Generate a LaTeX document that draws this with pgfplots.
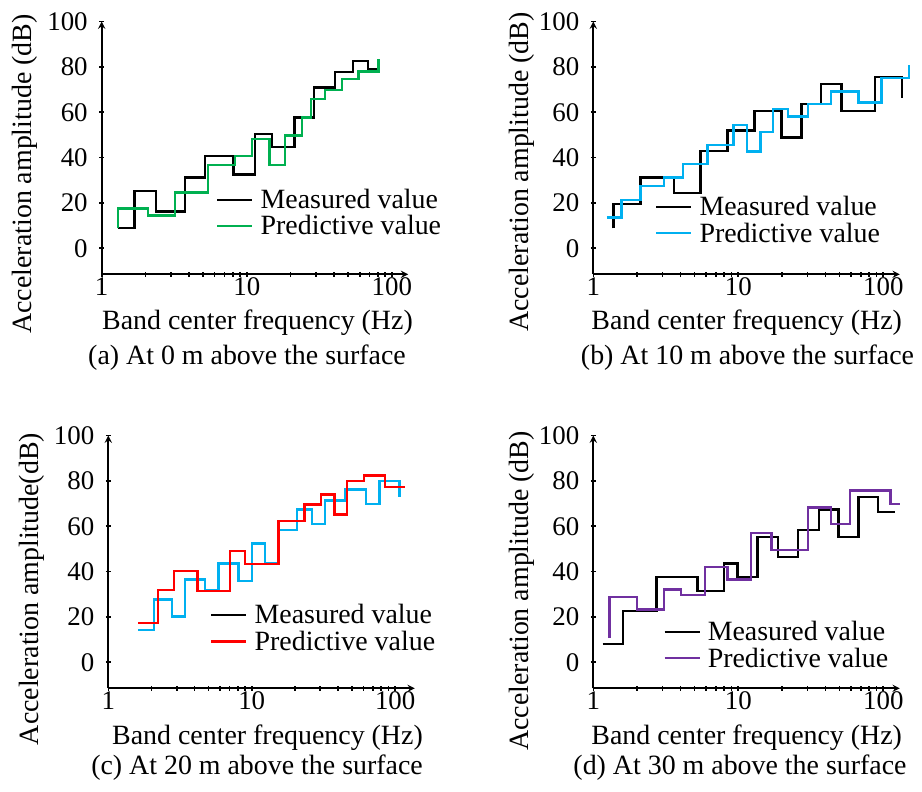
\documentclass[border=0pt]{standalone}
\usepackage{fontspec}
\setmainfont{Liberation Serif}
\usepackage{pgfplots}
\pgfplotsset{compat=1.18}
\pgfkeys{/pgf/number format/assume math mode=true}
\definecolor{cgreen}{HTML}{00B050}
\definecolor{ccyan}{HTML}{00B0F0}
\definecolor{cred}{HTML}{FF0000}
\definecolor{cpurple}{HTML}{7030A0}
\pgfplotsset{
 every axis/.append style={
  scale only axis, width=306.5bp, height=252.8bp,
  axis line style={-, line width=2.2bp},
  tick align=inside,
  major tick length=5bp, minor tick length=5bp,
  tick label style={font=\fontsize{27}{27}\selectfont},
  yticklabel style={xshift=-8bp},
  xticklabel style={yshift=3bp},
  legend style={draw=none, fill=none, inner sep=0pt, font=\fontsize{28}{28}\selectfont, row sep=1.5bp, anchor=north west,
    /tikz/every odd column/.append style={column sep=5bp}},
  legend cell align=left,
 },
 every tick/.style={line width=1.6bp, black},
 legend image code/.code={\draw[line width=2.4bp,#1] (0bp,0bp) -- (35bp,0bp);},
}
\newcommand{\bigfont}{\fontsize{28}{28}\selectfont}
\begin{document}
\begin{tikzpicture}
\path[use as bounding box] (0bp,0bp) rectangle (922bp,-792bp);
% ---------------- (a)
\begin{axis}[xmode=log, xmin=1, xmax=129.5, ymin=-11.5, ymax=100,
  axis x line=bottom, axis y line=left, clip=false,
  xtick={1,10,100}, xticklabels={1,10,100},
  minor xtick={2,3,4,5,6,7,8,9,20,30,40,50,60,70,80,90},
  ytick={0,20,40,60,80,100},
  at={(101.7bp,-274.3bp)}, anchor=south west,
  legend style={at={(axis description cs:0.373,0.345)}}]
\addlegendimage{black}\addlegendentry{Measured value}
\addlegendimage{cgreen}\addlegendentry{Predictive value}
\addplot[const plot, line width=2.4bp, forget plot, black] coordinates {(1.30,8.8)(1.68,25.3)(2.37,16.2)(3.76,31.2)(5.16,40.7)(8.09,32.6)(11.4,50.4)(14.9,44.6)(21.3,57.6)(29.1,70.9)(40.6,77.6)(53.8,82.6)(68.3,79.1)(80.9,79.1)};
\addplot[const plot, line width=2.4bp, forget plot, cgreen] coordinates {(1.30,8.8)(1.30,17.6)(2.08,14.4)(3.20,24.6)(5.38,36.8)(8.31,40.7)(10.9,48.2)(14.3,36.8)(18.4,49.7)(23.9,57.6)(27.8,65.7)(34.7,69.9)(45.2,74.7)(58.9,77.9)(80.9,83.4)};
\end{axis}
% ---------------- (b)
\begin{axis}[xmode=log, xmin=1, xmax=130, ymin=-11.5, ymax=100,
  axis x line=bottom, axis y line=left, clip=false,
  xtick={1,10,100}, xticklabels={1,10,100},
  minor xtick={2,3,4,5,6,7,8,9,20,30,40,50,60,70,80,90},
  ytick={0,20,40,60,80,100},
  at={(593.3bp,-274.3bp)}, anchor=south west,
  legend style={at={(axis description cs:0.201,0.317)}}]
\addlegendimage{black}\addlegendentry{Measured value}
\addlegendimage{ccyan}\addlegendentry{Predictive value}
\addplot[const plot, line width=2.4bp, forget plot, black] coordinates {(1.38,8.8)(1.38,19.4)(2.11,31.2)(3.59,24.3)(5.50,42.9)(8.43,51.9)(12.9,60.6)(19.8,48.8)(27.2,63.5)(37.1,72.5)(51.6,60.6)(87.9,75.4)(134.8,66.2)};
\addplot[const plot, line width=2.4bp, forget plot, ccyan] coordinates {(1.24,13.5)(1.56,21.3)(2.11,27.5)(3.06,31.2)(4.17,37.2)(6.12,45.6)(9.28,54.4)(11.5,42.6)(14.2,51.2)(17.4,61.3)(22.0,58.1)(30.3,63.5)(43.5,69.1)(67.4,64.3)(96.9,75.0)(150,80.9)};
\end{axis}
% ---------------- (c)
\begin{axis}[xmode=log, xmin=1, xmax=137, ymin=-11.5, ymax=100,
  axis x line=bottom, axis y line=left, clip=false,
  xtick={1,10,100}, xticklabels={1,10,100},
  minor xtick={2,3,4,5,6,7,8,9,20,30,40,50,60,70,80,90},
  ytick={0,20,40,60,80,100},
  at={(108.3bp,-688.3bp)}, anchor=south west,
  legend style={at={(axis description cs:0.332,0.34)}}]
\addlegendimage{black}\addlegendentry{Measured value}
\addlegendimage{cred}\addlegendentry{Predictive value}
\addplot[const plot, line width=2.4bp, forget plot, ccyan] coordinates {(1.62,14.2)(2.09,27.7)(2.77,20.1)(3.43,36.5)(4.73,31.8)(5.85,43.5)(8.07,35.9)(10.0,52.3)(12.4,43.5)(15.4,58.2)(20.6,67.3)(26.2,60.9)(32.5,71.4)(44.8,76.1)(62.8,69.9)(77.8,79.9)(107.2,72.9)};
\addplot[const plot, line width=2.4bp, forget plot, cred] coordinates {(1.62,17.2)(2.23,31.8)(2.87,40.3)(4.18,31.5)(7.06,49.0)(8.98,43.3)(15.4,62.3)(23.3,69.6)(30.5,74.0)(37.7,65.2)(46.0,79.9)(60.8,82.4)(85.1,77.3)(117.4,77.3)};
\end{axis}
% ---------------- (d)
\begin{axis}[xmode=log, xmin=1, xmax=130, ymin=-11.5, ymax=100,
  axis x line=bottom, axis y line=left, clip=false,
  xtick={1,10,100}, xticklabels={1,10,100},
  minor xtick={2,3,4,5,6,7,8,9,20,30,40,50,60,70,80,90},
  ytick={0,20,40,60,80,100},
  at={(593.3bp,-688.3bp)}, anchor=south west,
  legend style={at={(axis description cs:0.228,0.273)}}]
\addlegendimage{black}\addlegendentry{Measured value}
\addlegendimage{cpurple}\addlegendentry{Predictive value}
\addplot[const plot, line width=2.4bp, forget plot, black] coordinates {(1.16,8.1)(1.60,22.7)(2.72,37.7)(5.22,31.5)(8.0,43.5)(9.89,37.7)(13.6,55.3)(18.8,46.5)(25.8,58.2)(35.9,67.3)(49.0,55.3)(67.4,72.9)(91.8,66.3)(121,66.3)};
\addplot[const plot, line width=2.4bp, forget plot, cpurple] coordinates {(1.29,10.6)(1.29,28.9)(2.0,23.3)(3.06,32.1)(4.04,29.6)(5.87,42.1)(8.43,36.5)(12.2,57.0)(16.9,49.4)(30.3,68.2)(43.5,60.9)(59.0,75.8)(111.9,69.9)(131,69.9)};
\end{axis}
% ---------------- labels
\node[rotate=90, font=\bigfont] at (25bp,-174bp) {Acceleration amplitude (dB)};
\node[font=\bigfont] at (257.5bp,-323bp) {Band center frequency (Hz)};
\node[font=\bigfont] at (247bp,-358bp) {(a) At 0 m above the surface};
\node[rotate=90, font=\bigfont] at (521.7bp,-172bp) {Acceleration amplitude (dB)};
\node[font=\bigfont] at (746.7bp,-323bp) {Band center frequency (Hz)};
\node[font=\bigfont] at (747.5bp,-358bp) {(b) At 10 m above the surface};
\node[rotate=90, font=\bigfont] at (32bp,-589bp) {Acceleration amplitude(dB)};
\node[font=\bigfont] at (267.5bp,-738bp) {Band center frequency (Hz)};
\node[font=\bigfont] at (257bp,-768bp) {(c) At 20 m above the surface};
\node[rotate=90, font=\bigfont] at (521.7bp,-591bp) {Acceleration amplitude (dB)};
\node[font=\bigfont] at (746.7bp,-738bp) {Band center frequency (Hz)};
\node[font=\bigfont] at (740bp,-768bp) {(d) At 30 m above the surface};
\end{tikzpicture}
\end{document}
